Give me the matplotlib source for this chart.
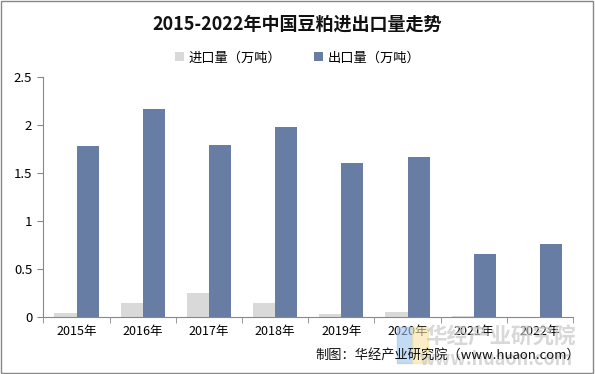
import matplotlib
matplotlib.use('Agg')
import matplotlib.pyplot as plt
import numpy as np

plt.rcParams['font.family'] = ['Noto Sans CJK SC', 'DejaVu Sans']

years = ['2015年', '2016年', '2017年', '2018年', '2019年', '2020年', '2021年', '2022年']
imports = [0.04, 0.15, 0.25, 0.15, 0.03, 0.05, 0.01, 0.0]
exports = [1.78, 2.17, 1.79, 1.98, 1.61, 1.67, 0.66, 0.76]
yticks = [0, 0.5, 1, 1.5, 2, 2.5]
ytick_labels = ['0', '0.5', '1', '1.5', '2', '2.5']

fig = plt.figure(figsize=(5.95, 3.74), dpi=100)
ax = fig.add_axes([0.073, 0.152, 0.89, 0.642])

x = np.arange(len(years))
w = 0.335
ax.bar(x - w / 2, imports, w, color='#d9d9d9', label='进口量（万吨）')
ax.bar(x + w / 2, exports, w, color='#687da3', label='出口量（万吨）')

ax.set_xlim(-0.5, len(years) - 0.5)
ax.set_ylim(0, 2.5)
ax.set_yticks(yticks)
ax.set_yticklabels(ytick_labels)
ax.set_xticks(x)
ax.set_xticklabels(years)
ax.set_xticks(np.arange(-0.5, len(years)), minor=True)
ax.tick_params(axis='x', which='major', length=0, pad=6, labelsize=9)
ax.tick_params(axis='x', which='minor', length=4, color='#888888')
ax.tick_params(axis='y', length=4, color='#888888', labelsize=9.5, pad=4)
for s in ['top', 'right']:
    ax.spines[s].set_visible(False)
for s in ['left', 'bottom']:
    ax.spines[s].set_color('#888888')
    ax.spines[s].set_linewidth(0.8)

fig.text(0.5, 0.935, '2015-2022年中国豆粕进出口量走势', ha='center', va='center',
         fontsize=13, fontweight='bold', color='#111111')
fig.legend(loc='center', bbox_to_anchor=(0.5, 0.845), ncol=2, frameon=False,
           fontsize=9.5, handlelength=0.7, handleheight=0.7, handletextpad=0.3,
           columnspacing=2.5)

# watermark
fig.patches.append(plt.Rectangle((0.667, 0.03), 0.026, 0.095, transform=fig.transFigure,
                                 color='#9ec3f0', alpha=0.6, zorder=0))
fig.patches.append(plt.Rectangle((0.693, 0.03), 0.026, 0.095, transform=fig.transFigure,
                                 color='#f5e3a0', alpha=0.6, zorder=0))
fig.text(0.968, 0.1, '华经产业研究院', ha='right', va='center', fontsize=15.5,
         fontweight='bold', color='#c8c8c8', alpha=0.7)
fig.text(0.962, 0.038, 'www.huaon.com', ha='right', va='center', fontsize=13,
         fontweight='bold', color='#c8c8c8', alpha=0.7)

fig.text(0.975, 0.05, '制图：华经产业研究院（www.huaon.com）', ha='right', va='center',
         fontsize=9.5, color='#111111')

fig.patches.append(plt.Rectangle((0.002, 0.003), 0.995, 0.994, transform=fig.transFigure,
                                 fill=False, edgecolor='#888888', linewidth=1))

fig.savefig('out.png', dpi=100)
